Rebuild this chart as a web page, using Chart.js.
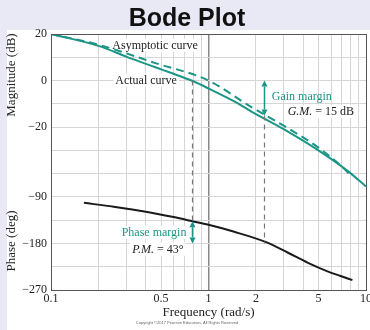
<!DOCTYPE html>
<html>
<head>
<meta charset="utf-8">
<script src="https://cdn.jsdelivr.net/npm/chart.js@4.4.0/dist/chart.umd.min.js"></script>
<style>
  html, body { margin: 0; padding: 0; background: #e9e9f5; }
  canvas { display: block; }
</style>
</head>
<body>
<canvas id="bode" width="370" height="330"></canvas>
<script>
// frequencies (rad/s) and values
const freqActual = [0.1, 0.205, 0.3, 0.46, 0.6, 0.78, 1, 1.5, 1.85, 3, 4.93, 7.6, 10];
const magActual = [20, 14.7, 10.3, 5.7, 2.9, 0, -3.4, -9.4, -13.1, -20.9, -29.8, -38.7, -45.5];

const freqAsym = [0.1, 0.2, 0.46, 1, 1.85, 3, 4.93, 6.9, 7.8];
const magAsym = [20, 15.4, 7.5, 0, -11.2, -19.4, -28.6, -36.5, -40];

const freqPhase = [0.162, 0.25, 0.4, 0.6, 0.79, 1, 1.44, 2.3, 3.2, 4.25, 5.7, 6.9, 8.2];
const phaseDeg = [-101.5, -109, -118.5, -129, -137, -144, -157, -177, -198, -217, -234, -243, -251];

// axes
const xGridVals = [0.1, 0.2, 0.3, 0.4, 0.5, 0.6, 0.7, 0.8, 0.9, 1, 2, 3, 4, 5, 6, 7, 8, 9, 10];
const xLabelVals = [0.1, 0.5, 1, 2, 5, 10];
const xLabels = ['0.1', '0.5', '1', '2', '5', '10'];
const magGridVals = [20, 10, 0, -10, -20, -30, -40, -50, -60, -70, -80, -90];
const magLabelVals = [20, 0, -20];
const magLabels = ['20', '0', '\u221220'];
const phaseLabelVals = [-90, -180, -270];
const phaseLabels = ['\u221290', '\u2212180', '\u2212270'];

// margins
const gainCross = 0.78;   // rad/s
const phaseCross = 2.24;  // rad/s
const gainMargin = 15;    // dB
const phaseMargin = 43;   // deg

const TEAL = '#1b9585';
const SERIF = '"Liberation Serif", "DejaVu Serif", serif';

function pts(xs, ys) { return xs.map((x, i) => ({ x: x, y: ys[i] })); }

// phase axis is hidden and shares the pixels of the magnitude axis
const PHASE_MIN = -270, PHASE_MAX = 225;
const MAG_MIN = -90, MAG_MAX = 20;
function magToPhase(v) { return PHASE_MIN + (v - MAG_MIN) * (PHASE_MAX - PHASE_MIN) / (MAG_MAX - MAG_MIN); }

function textBox(c, parts, x, y, align, bg) {
    // parts: [[text, font, color], ...]
    let w = 0;
    parts.forEach(p => { c.font = p[1]; w += c.measureText(p[0]).width; });
    let left = align === 'right' ? x - w : x;
    if (bg) { c.fillStyle = '#fff'; c.fillRect(left - 2, y - 7, w + 4, 13); }
    c.textBaseline = 'middle';
    c.textAlign = 'left';
    parts.forEach(p => {
        c.font = p[1]; c.fillStyle = p[2];
        c.fillText(p[0], left, y);
        left += c.measureText(p[0]).width;
    });
}

function arrow(c, x, y1, y2, color) {
    const h = 6, hw = 3;
    c.strokeStyle = color; c.fillStyle = color; c.lineWidth = 1.5; c.setLineDash([]);
    const dir = y2 > y1 ? 1 : -1;
    c.beginPath(); c.moveTo(x, y1 + dir * h); c.lineTo(x, y2 - dir * h); c.stroke();
    c.beginPath(); c.moveTo(x, y1); c.lineTo(x - hw, y1 + dir * h); c.lineTo(x + hw, y1 + dir * h); c.closePath(); c.fill();
    c.beginPath(); c.moveTo(x, y2); c.lineTo(x - hw, y2 - dir * h); c.lineTo(x + hw, y2 - dir * h); c.closePath(); c.fill();
}

const bodeDecor = {
    id: 'bodeDecor',
    beforeDraw(chart) {
        const c = chart.ctx;
        c.save();
        c.fillStyle = '#e9e9f5';
        c.fillRect(0, 0, chart.width, chart.height);
        c.fillStyle = '#ffffff';
        c.fillRect(7, 30, chart.width - 7, chart.height - 30);
        c.font = 'bold 25px "Liberation Sans", Arial, sans-serif';
        c.fillStyle = '#111';
        c.textAlign = 'center';
        c.textBaseline = 'alphabetic';
        c.fillText('Bode Plot', 187, 26);
        c.restore();
    },
    beforeDatasetsDraw(chart) {
        const c = chart.ctx, xs = chart.scales.x, ym = chart.scales.y;
        c.save();
        const f = '12px ' + SERIF;
        textBox(c, [['Asymptotic curve', f, '#222']], xs.getPixelForValue(0.245), ym.getPixelForValue(14.9), 'left', true);
        textBox(c, [['Actual curve', f, '#222']], xs.getPixelForValue(0.256), ym.getPixelForValue(0), 'left', true);
        c.restore();
    },
    afterDatasetsDraw(chart) {
        const c = chart.ctx, xs = chart.scales.x, ym = chart.scales.y, yp = chart.scales.yPhase;
        const a = chart.chartArea;
        c.save();
        // dashed guides
        c.strokeStyle = '#777'; c.lineWidth = 1.2; c.setLineDash([5, 4]);
        const xg = Math.round(xs.getPixelForValue(gainCross)) + 0.5;
        c.beginPath(); c.moveTo(xg, ym.getPixelForValue(0)); c.lineTo(xg, yp.getPixelForValue(-180 + phaseMargin)); c.stroke();
        const xp = Math.round(xs.getPixelForValue(phaseCross)) + 0.5;
        c.beginPath(); c.moveTo(xp, ym.getPixelForValue(-gainMargin)); c.lineTo(xp, yp.getPixelForValue(-180)); c.stroke();
        // margin arrows
        arrow(c, xp, ym.getPixelForValue(0), ym.getPixelForValue(-gainMargin), TEAL);
        arrow(c, xg, yp.getPixelForValue(-180 + phaseMargin), yp.getPixelForValue(-180), TEAL);
        // frame
        c.setLineDash([]);
        c.strokeStyle = '#555'; c.lineWidth = 1;
        c.strokeRect(Math.round(a.left) + 0.5, Math.round(a.top) + 0.5, Math.round(a.right - a.left), Math.round(a.bottom - a.top));
        // margin texts
        const f = '12px ' + SERIF, fi = 'italic 12px ' + SERIF;
        textBox(c, [['Gain margin', f, TEAL]], xs.getPixelForValue(2.52), ym.getPixelForValue(-6.8), 'left', false);
        textBox(c, [['G.M.', fi, '#222'], [' = 15 dB', f, '#222']], xs.getPixelForValue(3.18), ym.getPixelForValue(-13.6), 'left', true);
        textBox(c, [['Phase margin', f, TEAL]], xs.getPixelForValue(0.724), yp.getPixelForValue(-159.5), 'right', true);
        textBox(c, [['P.M.', fi, '#222'], [' = 43\u00b0', f, '#222']], xs.getPixelForValue(0.328), yp.getPixelForValue(-192), 'left', true);
        c.restore();
    },
    afterDraw(chart) {
        const c = chart.ctx;
        c.save();
        c.fillStyle = '#222';
        c.textAlign = 'center';
        c.textBaseline = 'middle';
        c.font = '13px ' + SERIF;
        c.fillText('Frequency (rad/s)', chart.scales.x.getPixelForValue(1), 313);
        c.translate(12, 0);
        c.rotate(-Math.PI / 2);
        c.fillText('Magnitude (dB)', -75, 0);
        c.fillText('Phase (deg)', -241, 0);
        c.restore();
        c.save();
        c.fillStyle = '#666';
        c.font = '4px "Liberation Sans", sans-serif';
        c.textAlign = 'center';
        c.textBaseline = 'middle';
        c.fillText('Copyright \u00a92017 Pearson Education, All Rights Reserved', 187, 323);
        c.restore();
    }
};

new Chart(document.getElementById('bode'), {
    type: 'line',
    data: {
        datasets: [
            { label: 'Actual curve', data: pts(freqActual, magActual), yAxisID: 'y',
              borderColor: TEAL, borderWidth: 2, cubicInterpolationMode: 'monotone', pointRadius: 0 },
            { label: 'Asymptotic curve', data: pts(freqAsym, magAsym), yAxisID: 'y',
              borderColor: TEAL, borderWidth: 2, borderDash: [8, 5], cubicInterpolationMode: 'monotone', pointRadius: 0 },
            { label: 'Phase', data: pts(freqPhase, phaseDeg), yAxisID: 'yPhase',
              borderColor: '#1a1a1a', borderWidth: 2, cubicInterpolationMode: 'monotone', pointRadius: 0 }
        ]
    },
    options: {
        responsive: false,
        animation: false,
        devicePixelRatio: 1,
        layout: { padding: { top: 34, right: 4, left: 0, bottom: 0 } },
        plugins: { legend: { display: false }, tooltip: { enabled: false } },
        scales: {
            x: {
                type: 'logarithmic', min: 0.1, max: 10,
                afterBuildTicks: s => { s.ticks = xGridVals.map(v => ({ value: v })); },
                afterFit: s => { s.height = 40; s.paddingLeft = 0; s.paddingRight = 0; },
                ticks: {
                    autoSkip: false, maxRotation: 0, padding: 2, color: '#222',
                    font: { family: SERIF, size: 12 },
                    callback: v => { const i = xLabelVals.indexOf(v); return i >= 0 ? xLabels[i] : ''; }
                },
                grid: {
                    drawTicks: false,
                    color: ctx => (ctx.tick && ctx.tick.value === 1) ? '#888' : '#d6d6d6',
                    lineWidth: ctx => (ctx.tick && ctx.tick.value === 1) ? 1.5 : 1
                },
                border: { color: '#555' }
            },
            y: {
                position: 'left', min: MAG_MIN, max: MAG_MAX,
                afterBuildTicks: s => { s.ticks = magGridVals.map(v => ({ value: v })); },
                afterFit: s => { s.width = 51; },
                ticks: {
                    autoSkip: false, padding: 4, color: '#222',
                    font: { family: SERIF, size: 12 },
                    callback: v => {
                        const i = magLabelVals.indexOf(v);
                        if (i >= 0) return magLabels[i];
                        const j = phaseLabelVals.indexOf(magToPhase(v));
                        return j >= 0 ? phaseLabels[j] : '';
                    }
                },
                grid: { drawTicks: false, color: '#d6d6d6' },
                border: { color: '#555' }
            },
            yPhase: { display: false, min: PHASE_MIN, max: PHASE_MAX }
        }
    },
    plugins: [bodeDecor]
});
</script>
</body>
</html>
